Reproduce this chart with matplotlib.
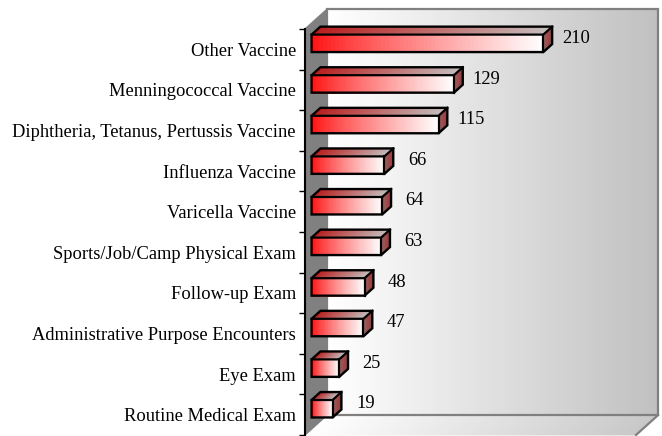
import numpy as np
import matplotlib.pyplot as plt
from matplotlib.patches import Polygon
from matplotlib.collections import PolyCollection
from matplotlib.colors import to_rgb

plt.rcParams['font.family'] = ['Liberation Serif', 'DejaVu Serif']

# data (top to bottom)
categories = ['Other Vaccine', 'Menningococcal Vaccine',
              'Diphtheria, Tetanus, Pertussis Vaccine', 'Influenza Vaccine',
              'Varicella Vaccine', 'Sports/Job/Camp Physical Exam',
              'Follow-up Exam', 'Administrative Purpose Encounters',
              'Eye Exam', 'Routine Medical Exam']
counts = [210, 129, 115, 66, 64, 63, 48, 47, 25, 19]

X_MAX = 300
DX = 20.0     # depth of the 3d box, in value units
DY = 0.49     # depth of the 3d box, in category units
D0, D1 = 0.3, 0.7   # bars sit in the middle of the depth
BAR_H = 0.43


def proj(x, y, d):
    return (x + d * DX, y - d * DY)


def grad_quad(ax, p0, p1, p2, p3, c_start, c_end, n=60, power=1.0, z=1):
    # quad p0-p1 (start edge) -> p3-p2 (end edge), colour varies from start to end
    p0, p1, p2, p3 = map(np.array, (p0, p1, p2, p3))
    c_start, c_end = np.array(to_rgb(c_start)), np.array(to_rgb(c_end))
    polys, cols = [], []
    for k in range(n):
        t0, t1 = k / n, (k + 1) / n
        a = p0 + (p3 - p0) * t0
        b = p1 + (p2 - p1) * t0
        c = p1 + (p2 - p1) * t1
        d = p0 + (p3 - p0) * t1
        polys.append([a, b, c, d])
        tm = min(1.0, ((t0 + t1) / 2) ** power)
        cols.append(c_start + (c_end - c_start) * tm)
    pc = PolyCollection(polys, facecolors=cols, edgecolors=cols,
                        linewidths=0.6, clip_on=False, zorder=z)
    ax.add_collection(pc)


fig = plt.figure(figsize=(6.62, 4.36), dpi=100)
ax = fig.add_axes([305 / 662, 1 / 436, 331 / 662, 406 / 436])
ax.set_xlim(0, X_MAX)
ax.set_ylim(len(categories) - 0.5, -0.5)

top, bot = -0.5, len(categories) - 0.5

# back wall
grad_quad(ax, proj(0, top, 1), proj(0, bot, 1), proj(X_MAX, bot, 1),
          proj(X_MAX, top, 1), '#ffffff', '#c0c0c0', n=80, z=0.5)
ax.add_patch(Polygon([proj(0, top, 1), proj(X_MAX, top, 1),
                      proj(X_MAX, bot, 1), proj(0, bot, 1)], closed=True,
                     fill=False, edgecolor='#808080', lw=1.6,
                     clip_on=False, zorder=0.6))
# floor
grad_quad(ax, proj(0, bot, 0), proj(0, bot, 1), proj(X_MAX, bot, 1),
          proj(X_MAX, bot, 0), '#ffffff', '#c8c8c8', n=80, z=0.5)
ax.plot([proj(X_MAX, bot, 1)[0], X_MAX], [proj(X_MAX, bot, 1)[1], bot],
        color='#808080', lw=1.6, clip_on=False, zorder=0.6)
# left wall
ax.add_patch(Polygon([proj(0, top, 0), proj(0, top, 1), proj(0, bot, 1),
                      proj(0, bot, 0)], closed=True, facecolor='#808080',
                     edgecolor='#808080', lw=1, clip_on=False, zorder=0.7))

# bars
for i, v in enumerate(counts):
    y0, y1 = i - BAR_H / 2, i + BAR_H / 2
    # top face
    grad_quad(ax, proj(0, y0, D0), proj(0, y0, D1), proj(v, y0, D1),
              proj(v, y0, D0), '#b81c1c', '#c4bcbc', z=2)
    # side face
    grad_quad(ax, proj(v, y0, D0), proj(v, y1, D0), proj(v, y1, D1),
              proj(v, y0, D1), '#8a6a6a', '#a83434', n=10, z=2)
    # front face
    grad_quad(ax, proj(0, y0, D0), proj(0, y1, D0), proj(v, y1, D0),
              proj(v, y0, D0), '#ff1010', '#ffffff', power=0.85, z=2)
    outline = [proj(0, y0, D0), proj(0, y0, D1), proj(v, y0, D1),
               proj(v, y1, D1), proj(v, y1, D0), proj(0, y1, D0)]
    ax.add_patch(Polygon(outline, closed=True, fill=False, edgecolor='black',
                         lw=1.7, joinstyle='miter', clip_on=False, zorder=3))
    ax.plot([proj(0, y0, D0)[0], proj(v, y0, D0)[0], proj(v, y0, D1)[0]],
            [proj(0, y0, D0)[1], proj(v, y0, D0)[1], proj(v, y0, D1)[1]],
            color='black', lw=1.6, clip_on=False, zorder=3)
    ax.plot([proj(v, y0, D0)[0], proj(v, y1, D0)[0]],
            [proj(v, y0, D0)[1], proj(v, y1, D0)[1]],
            color='black', lw=1.6, clip_on=False, zorder=3)
    ax.annotate(str(v), xy=proj(v, i, D0), xytext=(23.5, 3.5),
                textcoords='offset points', ha='center', va='center',
                fontsize=13.3, color='black', annotation_clip=False, zorder=4)

ax.set_yticks(range(len(categories)))
ax.set_yticklabels(categories, fontsize=13.3)
ax.set_yticks(np.arange(-0.5, len(categories), 1), minor=True)
ax.tick_params(axis='y', which='major', length=0, pad=6.5)
ax.tick_params(axis='y', which='minor', length=4.5, width=1, color='black')
ax.set_xticks([])
for s in ['top', 'right', 'bottom']:
    ax.spines[s].set_visible(False)
ax.spines['left'].set_linewidth(1.5)
ax.spines['left'].set_zorder(5)
ax.patch.set_alpha(0)

fig.savefig('out.png', dpi=100)
